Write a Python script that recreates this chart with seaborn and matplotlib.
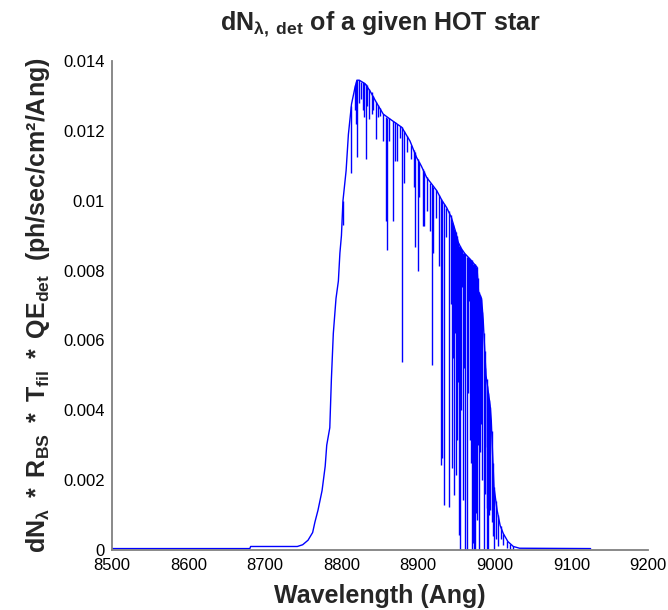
import numpy as np
import matplotlib
matplotlib.use("Agg")
import matplotlib.pyplot as plt
import seaborn as sns

# ---- data ----
# continuum (upper envelope) of the detected spectrum
cont_wl = [8500, 8680, 8681, 8742, 8749, 8756, 8762, 8765, 8769, 8774.3, 8778.4,
           8780.4, 8784.4, 8786.5, 8789, 8792.5, 8795.6, 8797.6, 8799.6, 8801.6,
           8805.7, 8808.7, 8812.8, 8817.3, 8819.8, 8822.9, 8830.5, 8837, 8845.6,
           8854.2, 8862.3, 8869.4, 8878.5, 8889.1, 8897.7, 8903.8, 8910.8, 8924,
           8931.1, 8937.1, 8943.2, 8948.3, 8952.3, 8956.4, 8961, 8967.5, 8972.5,
           8976.6, 8978.6, 8982.6, 8984.7, 8988.4, 8993.8, 8995.3, 8996.8, 8998.8,
           9002.9, 9006.9, 9011, 9017, 9024.1, 9032.2, 9125]
cont_flux = [0.00004, 0.00004, 0.0001, 0.0001, 0.00015, 0.00028, 0.0005, 0.0008,
             0.00114, 0.0017, 0.0024, 0.0030, 0.0035, 0.0049, 0.0062, 0.0072,
             0.0077, 0.0085, 0.0090, 0.0100, 0.01086, 0.0119, 0.01277, 0.01324,
             0.01345, 0.01345, 0.01335, 0.01314, 0.0128, 0.01248, 0.01235, 0.01224,
             0.0121, 0.01171, 0.01124, 0.0110, 0.01067, 0.01029, 0.0100, 0.0098,
             0.00952, 0.00914, 0.0088, 0.00862, 0.00848, 0.00833, 0.0082, 0.0081,
             0.0074, 0.0072, 0.0066, 0.0050, 0.00414, 0.0037, 0.00286, 0.0018,
             0.00114, 0.0007, 0.00047, 0.00024, 0.0001, 0.00005, 0.00004]

# absorption lines: wavelength, flux at line top, flux at line bottom
line_wl = [8801.6, 8812.3, 8817.8, 8818.8, 8820.5, 8821.9, 8824.9, 8827.9, 8829.4,
           8831.7, 8833, 8835.6, 8839.1, 8841.1, 8844.8, 8847.1, 8850.2, 8854.2,
           8857.9, 8859.2, 8861.3, 8866.4, 8869.4, 8872.4, 8875.5, 8878.5, 8881.5,
           8885.6, 8890.6, 8894.4, 8895.7, 8899.2, 8900.7, 8905.8, 8907.4, 8910.9,
           8915.9, 8917.9, 8919.5, 8923, 8927, 8929.7, 8931.1, 8934.1, 8936.6,
           8939.8, 8942.2, 8944.2, 8945.7, 8947, 8948.3, 8949.3, 8951, 8952.3,
           8953.3, 8954.3, 8955.8, 8957.1, 8958.8, 8959.9, 8961.4, 8963.2, 8964.4,
           8965.9, 8967.5, 8968.5, 8969.5, 8970.5, 8971.5, 8972.5, 8974, 8975.6,
           8977.1, 8978.1, 8979.3, 8980.6, 8981.6, 8983.6, 8985.4, 8986.7, 8987.7,
           8989.3, 8990.2, 8991.4, 8992.8, 8993.8, 8995.8, 8997.3, 8998.8, 9001.5,
           9004.5, 9007.6, 9011, 9016, 9019.8, 9024.1]
line_top = [0.0100, 0.0127, 0.0133, 0.0134, 0.01345, 0.01345, 0.0134, 0.0134,
            0.01337, 0.01334, 0.0133, 0.0132, 0.0131, 0.0130, 0.01283, 0.01275,
            0.01265, 0.01248, 0.0124, 0.01238, 0.01236, 0.01228, 0.01224, 0.0122,
            0.01215, 0.0121, 0.0120, 0.01185, 0.0116, 0.01145, 0.0114, 0.0112,
            0.0111, 0.0109, 0.01085, 0.01067, 0.0105, 0.01045, 0.0104, 0.0103,
            0.01015, 0.01005, 0.0100, 0.0099, 0.0098, 0.0097, 0.0096, 0.0094,
            0.0093, 0.0092, 0.00914, 0.0091, 0.0090, 0.0088, 0.0087, 0.0087,
            0.00865, 0.0086, 0.0085, 0.0085, 0.00848, 0.0084, 0.0084, 0.00835,
            0.00833, 0.0083, 0.0083, 0.0082, 0.0082, 0.0082, 0.0082, 0.0081,
            0.0081, 0.0078, 0.0074, 0.0073, 0.0072, 0.0068, 0.0062, 0.0057,
            0.0052, 0.0049, 0.0047, 0.0045, 0.0043, 0.0041, 0.0034, 0.0025,
            0.0018, 0.0014, 0.0010, 0.0007, 0.00047, 0.00027, 0.00018, 0.0001]
line_depth = [0.0093, 0.0108, 0.0126, 0.0122, 0.01126, 0.0128, 0.0129, 0.0126,
              0.0124, 0.0112, 0.0127, 0.01234, 0.01248, 0.0126, 0.01177, 0.0124,
              0.01243, 0.01171, 0.00943, 0.00859, 0.0117, 0.00943, 0.01114,
              0.01114, 0.0118, 0.00538, 0.0105, 0.0114, 0.0112, 0.01038, 0.00867,
              0.0080, 0.0101, 0.00929, 0.00929, 0.0097, 0.00914, 0.00529, 0.0085,
              0.0095, 0.00814, 0.00243, 0.00262, 0.00129, 0.00895, 0.00124,
              0.00705, 0.00234, 0.0055, 0.00157, 0.0062, 0.00214, 0.00314,
              0.0048, 0.00043, 0.0, 0.0040, 0.00752, 0.00143, 0.0052, 0.0, 0.0,
              0.0045, 0.00714, 0.00314, 0.0025, 0.0, 0.0035, 0.0002, 0.0, 0.0,
              0.00105, 0.00086, 0.0030, 0.0, 0.0028, 0.00362, 0.0020, 0.0,
              0.00295, 0.0016, 0.0, 0.0012, 0.0, 0.0010, 0.00114, 0.0008, 0.0004,
              0.0, 0.0003, 0.0001, 0.0003, 0.00014, 0.00005, 0.0, 0.0]

x_ticks = [8500, 8600, 8700, 8800, 8900, 9000, 9100, 9200]
y_ticks = [0, 0.002, 0.004, 0.006, 0.008, 0.010, 0.012, 0.014]
y_tick_labels = ["0", "0.002", "0.004", "0.006", "0.008", "0.01", "0.012", "0.014"]

# ---- style ----
sns.set_style("white")
plt.rcParams["font.family"] = ["Liberation Sans", "DejaVu Sans"]
plt.rcParams["mathtext.fontset"] = "custom"
plt.rcParams["mathtext.rm"] = "Liberation Sans"
plt.rcParams["mathtext.bf"] = "Liberation Sans:bold"
plt.rcParams["mathtext.it"] = "Liberation Sans:italic"

fig = plt.figure(figsize=(6.68, 6.10), dpi=100)
ax = fig.add_axes([0.1677, 0.0984, 0.8024, 0.8016])

blue = "#0000ff"
sns.lineplot(x=cont_wl, y=cont_flux, color=blue, linewidth=1.0, ax=ax)
ax.vlines(line_wl, line_depth, line_top, colors=blue, linewidth=1.0)

ax.set_xlim(8500, 9200)
ax.set_ylim(0, 0.014)
ax.set_xticks(x_ticks)
ax.set_xticklabels([str(t) for t in x_ticks])
ax.set_yticks(y_ticks)
ax.set_yticklabels(y_tick_labels)
ax.tick_params(direction="in", length=4, width=1, color="#222222",
               labelsize=12, pad=5, labelcolor="black")
ax.tick_params(axis="x", pad=6)

for side in ["top", "right"]:
    ax.spines[side].set_visible(False)
for side in ["left", "bottom"]:
    ax.spines[side].set_color("#808080")
    ax.spines[side].set_linewidth(1.3)

ax.set_xlabel("Wavelength (Ang)", fontsize=18, fontweight="bold", labelpad=8)
ax.set_ylabel(r"$\mathbf{dN_{λ}\ *\ R_{BS}\ *\ T_{fil}\ *\ QE_{det}}$  (ph/sec/cm²/Ang)",
              fontsize=18, fontweight="bold", labelpad=8)
ax.set_title(r"$\mathbf{dN_{λ,\ det}}$ of a given HOT star", fontsize=18,
             fontweight="bold", pad=22)

fig.savefig("out.png", dpi=100)
